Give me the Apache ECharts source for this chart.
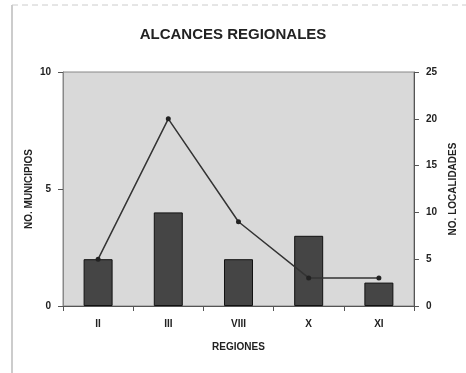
<!DOCTYPE html>
<html>
<head>
<meta charset="utf-8">
<script src="https://cdn.jsdelivr.net/npm/echarts@6/dist/echarts.min.js"></script>
<style>
  html, body { margin: 0; padding: 0; background: #fff; }
  #chart { width: 466px; height: 373px; }
</style>
</head>
<body>
<div id="chart"></div>
<script>
// data
var regiones = ["II", "III", "VIII", "X", "XI"];
var municipios = [2, 4, 2, 3, 1];
var localidades = [5, 20, 9, 3, 3];

var myChart = echarts.init(document.getElementById("chart"));

var option = {
  backgroundColor: "#fff",
  textStyle: { fontFamily: "Liberation Sans, Arial, sans-serif" },
  title: {
    text: "ALCANCES REGIONALES",
    left: "center",
    top: 22,
    textStyle: { fontSize: 15, fontWeight: "bold", color: "#222" },
  },
  grid: { left: 63, right: 52, top: 72, bottom: 67, show: true,
    backgroundColor: "#d9d9d9", borderColor: "#888", borderWidth: 1 },
  xAxis: {
    type: "category",
    data: regiones,
    name: "REGIONES",
    nameLocation: "middle",
    nameGap: 36,
    nameTextStyle: { fontSize: 10, fontWeight: "bold", color: "#222" },
    axisLine: { lineStyle: { color: "#555" } },
    axisTick: { show: true, lineStyle: { color: "#555" } },
    axisLabel: { fontSize: 10, fontWeight: "bold", color: "#222", margin: 13 },
  },
  yAxis: [
    {
      type: "value",
      min: 0,
      max: 10,
      interval: 5,
      name: "NO. MUNICIPIOS",
      nameLocation: "middle",
      nameGap: 29,
      nameMoveOverlap: false,
      nameTextStyle: { fontSize: 10, fontWeight: "bold", color: "#222" },
      axisLine: { show: true, lineStyle: { color: "#888" } },
      axisTick: { show: true, lineStyle: { color: "#555" } },
      axisLabel: { fontSize: 10, fontWeight: "bold", color: "#222", margin: 12 },
      splitLine: { show: false },
    },
    {
      type: "value",
      min: 0,
      max: 25,
      interval: 5,
      name: "NO. LOCALIDADES",
      nameLocation: "middle",
      nameGap: 33,
      nameTextStyle: { fontSize: 10, fontWeight: "bold", color: "#222" },
      axisLine: { show: true, lineStyle: { color: "#555" } },
      axisTick: { show: true, lineStyle: { color: "#555" } },
      axisLabel: { fontSize: 10, fontWeight: "bold", color: "#222", margin: 12 },
      splitLine: { show: false },
    },
  ],
  series: [
    {
      name: "Municipios",
      type: "bar",
      data: municipios,
      barWidth: 29,
      itemStyle: { color: "#454545", borderColor: "#111", borderWidth: 1 },
    },
    {
      name: "Localidades",
      type: "line",
      yAxisIndex: 1,
      data: localidades,
      symbol: "circle",
      symbolSize: 5,
      lineStyle: { color: "#333", width: 1.5 },
      itemStyle: { color: "#222" },
    },
  ],
  graphic: [
    { type: "line", shape: { x1: 12, y1: 5, x2: 12, y2: 373 },
      style: { stroke: "#999", lineWidth: 1 } },
    { type: "line", shape: { x1: 12, y1: 5, x2: 466, y2: 5 },
      style: { stroke: "#ccc", lineWidth: 1, lineDash: [6, 4] } },
  ],
};

myChart.setOption(option);
</script>
</body>
</html>
